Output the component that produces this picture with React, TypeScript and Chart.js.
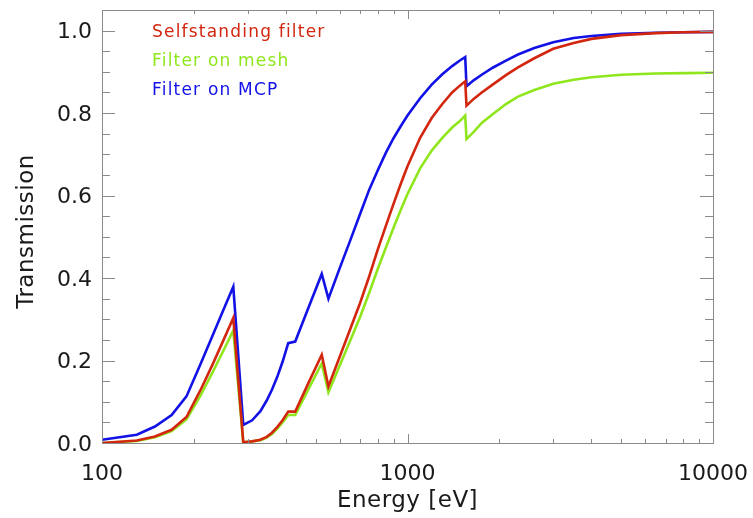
import React, { useEffect, useRef } from "react";
import { Chart, registerables } from "chart.js";

Chart.register(...registerables);

// Photon energy [eV]
const ENERGY = [
  100, 130, 149, 169, 189, 210, 230, 250, 269, 290, 310, 330, 346, 360, 375, 390, 407, 429, 475, 524,
  551, 600, 650, 700, 750, 800, 850, 900, 950, 1000, 1100, 1200, 1300, 1400, 1480, 1545, 1560, 1650,
  1750, 1900, 2100, 2300, 2600, 3000, 3500, 4000, 5000, 6500, 8000, 10000,
];

// Transmission: self-standing filter
const SELFSTANDING = [
  0.0, 0.006, 0.016, 0.032, 0.063, 0.128, 0.19, 0.25, 0.303, 0.002, 0.004, 0.008, 0.015, 0.025, 0.039,
  0.055, 0.076, 0.076, 0.147, 0.214, 0.137, 0.209, 0.277, 0.34, 0.405, 0.47, 0.527, 0.58, 0.628, 0.671,
  0.74, 0.788, 0.822, 0.85, 0.866, 0.877, 0.818, 0.835, 0.85, 0.869, 0.892, 0.911, 0.933, 0.956, 0.97,
  0.98, 0.989, 0.994, 0.996, 0.997,
];

// Transmission: filter on mesh
const MESH = [
  0.0, 0.005, 0.014, 0.029, 0.057, 0.115, 0.171, 0.225, 0.273, 0.002, 0.004, 0.007, 0.013, 0.022, 0.035,
  0.05, 0.068, 0.068, 0.132, 0.193, 0.123, 0.188, 0.249, 0.306, 0.365, 0.423, 0.474, 0.522, 0.565, 0.604,
  0.666, 0.709, 0.74, 0.765, 0.78, 0.794, 0.737, 0.755, 0.776, 0.797, 0.822, 0.84, 0.856, 0.871, 0.881,
  0.887, 0.893, 0.896, 0.897, 0.898,
];

// Transmission: filter on MCP
const MCP = [
  0.008, 0.02, 0.04, 0.068, 0.113, 0.191, 0.26, 0.324, 0.379, 0.044, 0.055, 0.077, 0.103, 0.129, 0.161,
  0.197, 0.242, 0.246, 0.33, 0.41, 0.35, 0.424, 0.492, 0.556, 0.615, 0.662, 0.704, 0.739, 0.768, 0.794,
  0.836, 0.869, 0.894, 0.914, 0.927, 0.936, 0.865, 0.88, 0.893, 0.91, 0.927, 0.942, 0.958, 0.972, 0.982,
  0.987, 0.992, 0.995, 0.996, 0.997,
];

const SERIES_LABELS = ["Selfstanding filter", "Filter on mesh", "Filter on MCP"];
const SERIES_COLORS = ["#d3260f", "#8fe61c", "#1212e6"];

const X_TICKS = [100, 1000, 10000];
const Y_TICKS = [0, 0.2, 0.4, 0.6, 0.8, 1.0];
const X_TITLE = "Energy [eV]";
const Y_TITLE = "Transmission";

const FONT = "'DejaVu Sans', sans-serif";
const W = 753;
const H = 518;

const framePlugin = {
  id: "idlFrame",
  afterDraw(chart: any) {
    const { ctx, chartArea: a, scales } = chart;
    const xs = scales.x;
    const ys = scales.y;
    ctx.save();

    // frame
    ctx.strokeStyle = "#8a8a8a";
    ctx.lineWidth = 1;
    ctx.strokeRect(Math.round(a.left) + 0.5, Math.round(a.top) + 0.5, Math.round(a.right - a.left), Math.round(a.bottom - a.top));

    // inward ticks
    ctx.beginPath();
    for (let i = 1; i <= 20; i++) {
      const v = i * 0.05;
      const py = Math.round(ys.getPixelForValue(v)) + 0.5;
      const len = i % 4 === 0 ? 13 : 8;
      ctx.moveTo(a.left, py);
      ctx.lineTo(a.left + len, py);
      ctx.moveTo(a.right, py);
      ctx.lineTo(a.right - len, py);
    }
    for (let d = 100; d < 10000; d *= 10) {
      for (let k = 2; k <= 10; k++) {
        const v = d * k;
        if (v >= 10000) continue;
        const px = Math.round(xs.getPixelForValue(v)) + 0.5;
        const len = k === 10 ? 9 : 4;
        ctx.moveTo(px, a.bottom);
        ctx.lineTo(px, a.bottom - len);
        ctx.moveTo(px, a.top);
        ctx.lineTo(px, a.top + len);
      }
    }
    ctx.stroke();

    // tick labels
    ctx.fillStyle = "#1a1a1a";
    ctx.font = `22px ${FONT}`;
    ctx.textAlign = "right";
    ctx.textBaseline = "middle";
    Y_TICKS.forEach((v) => {
      ctx.fillText(v.toFixed(1), a.left - 10, ys.getPixelForValue(v) + 2);
    });
    ctx.textAlign = "center";
    ctx.textBaseline = "alphabetic";
    X_TICKS.forEach((v) => {
      ctx.fillText(String(v), xs.getPixelForValue(v), a.bottom + 37);
    });

    // axis titles
    ctx.font = `23px ${FONT}`;
    (ctx as any).letterSpacing = "0.5px";
    ctx.fillText(X_TITLE, (a.left + a.right) / 2, a.bottom + 64);
    ctx.save();
    ctx.translate(33, (a.top + a.bottom) / 2 + 5);
    ctx.rotate(-Math.PI / 2);
    ctx.fillText(Y_TITLE, 0, 0);
    ctx.restore();

    // legend
    ctx.font = `17px ${FONT}`;
    (ctx as any).letterSpacing = "1.2px";
    ctx.textAlign = "left";
    SERIES_LABELS.forEach((t, i) => {
      ctx.fillStyle = SERIES_COLORS[i];
      ctx.fillText(t, a.left + 50, a.top + 27 + i * 29);
    });
    ctx.restore();
  },
};

export default function App() {
  const ref = useRef<HTMLCanvasElement | null>(null);

  useEffect(() => {
    if (!ref.current) return;
    const series = [SELFSTANDING, MESH, MCP];
    const chart = new Chart(ref.current, {
      type: "line",
      data: {
        datasets: series.map((vals, i) => ({
          label: SERIES_LABELS[i],
          data: ENERGY.map((e, j) => ({ x: e, y: vals[j] })),
          borderColor: SERIES_COLORS[i],
          backgroundColor: SERIES_COLORS[i],
          borderWidth: 2.6,
          pointRadius: 0,
          tension: 0,
          fill: false,
        })),
      },
      options: {
        responsive: false,
        devicePixelRatio: 1,
        animation: false,
        events: [],
        layout: { padding: { top: 10, right: 40, left: 0, bottom: 0 } },
        plugins: { legend: { display: false }, tooltip: { enabled: false } },
        scales: {
          x: {
            type: "logarithmic",
            min: 100,
            max: 10000,
            ticks: { display: false },
            grid: { display: false },
            border: { display: false },
            afterFit: (s: any) => {
              s.height = 75;
            },
          },
          y: {
            type: "linear",
            min: 0,
            max: 1.05,
            ticks: { display: false },
            grid: { display: false },
            border: { display: false },
            afterFit: (s: any) => {
              s.width = 102;
            },
          },
        },
      } as any,
      plugins: [framePlugin],
    });
    return () => chart.destroy();
  }, []);

  return (
    <div style={{ position: "absolute", left: 0, top: 0, width: W, height: H, background: "#fff" }}>
      <canvas ref={ref} width={W} height={H} style={{ display: "block", width: W, height: H }} />
    </div>
  );
}
